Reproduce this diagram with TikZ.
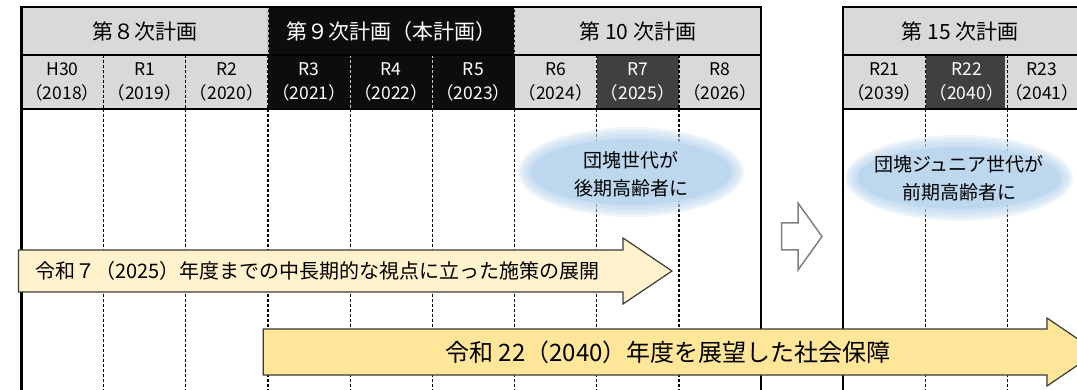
\documentclass[tikz,border=0pt]{standalone}
\usepackage{fontspec}
\setmainfont{Noto Sans CJK JP}
\usetikzlibrary{shapes.geometric}
\definecolor{hdrgrey}{HTML}{D9D9D9}
\definecolor{plannine}{HTML}{0D0D0D}
\definecolor{darkcell}{HTML}{404040}
\definecolor{cream}{HTML}{FFF2CC}
\definecolor{gold}{HTML}{FFE699}
\definecolor{bubble}{HTML}{BDD7EE}
\definecolor{arrowedge}{HTML}{3A3A3A}
\tikzset{
  hdrcell/.style={rectangle, inner sep=0pt, minimum height=47.5pt, font=\fontsize{21}{24}\selectfont},
  yearcell/.style={rectangle, inner sep=0pt, minimum height=54pt, minimum width=82.2pt, align=center, font=\fontsize{17.5}{24}\selectfont},
  gridline/.style={black, line width=1.2pt, dash pattern=on 3pt off 2pt},
  blockarrow/.style={draw=arrowedge, line width=1.2pt},
  bubbletext/.style={align=center, inner sep=0pt, font=\fontsize{19}{28}\selectfont},
}
\begin{document}
\begin{tikzpicture}[x=1pt,y=-1pt]
\useasboundingbox (0,0) rectangle (1077,390);
\clip (0,0) rectangle (1077,390);
% header cells
\node[hdrcell, minimum width=246.6pt, fill=hdrgrey] (h8) at (144.6,31.25) {第８次計画};
\node[hdrcell, minimum width=246.6pt, fill=plannine, text=white] (h9) at (391.2,31.25) {第９次計画（本計画）};
\node[hdrcell, minimum width=246.6pt, fill=hdrgrey] (h10) at (637.8,31.25) {第 10 次計画};
\node[hdrcell, minimum width=233.7pt, fill=hdrgrey] (h15) at (960.2,31.25) {第 15 次計画};
% year cells
\foreach \i/\lab/\yr/\bg/\fg in {0/H30/2018/hdrgrey/black, 1/R1/2019/hdrgrey/black, 2/R2/2020/hdrgrey/black, 3/R3/2021/plannine/white, 4/R4/2022/plannine/white, 5/R5/2023/plannine/white, 6/R6/2024/hdrgrey/black, 7/R7/2025/darkcell/white, 8/R8/2026/hdrgrey/black, 10/R21/2039/hdrgrey/black, 11/R22/2040/darkcell/white}
  \node[yearcell, fill=\bg, text=\fg] (y\lab) at ({62.4+82.2*\i},82) {\lab\\（\yr）};
\node[yearcell, fill=hdrgrey, minimum width=70pt] (yR23) at (1042,82) {R23\\（2041）};
\fill[hdrgrey] (1076,55) rectangle (1077,109);
% dashed separators
\foreach \i in {3,6}
  \draw[gridline, draw=gray!55] ({21.3+82.2*\i},7.5) -- ({21.3+82.2*\i},55);
\foreach \i in {1,2,3,6,7,8,11,12}
  \draw[gridline] ({21.3+82.2*\i},55) -- ({21.3+82.2*\i},109);
\foreach \i in {4,5}
  \draw[gridline, draw=gray!45] ({21.3+82.2*\i},55) -- ({21.3+82.2*\i},109);
\foreach \i in {1,2,3,4,5,6,7,8,11,12}
  \draw[gridline] ({21.3+82.2*\i},109) -- ({21.3+82.2*\i},390);
% solid table lines
\draw[line width=2pt] (20,7.5) -- (761.1,7.5);
\draw[line width=1.5pt] (21.3,55) -- (761.1,55);
\draw[line width=2pt] (21.3,109) -- (761.1,109);
\draw[line width=3pt] (21.3,6.5) -- (21.3,390);
\draw[line width=1.5pt] (761.1,6.5) -- (761.1,390);
\draw[line width=2pt] (842.3,7.5) -- (1077,7.5);
\draw[line width=1.5pt] (843.3,55) -- (1077,55);
\draw[line width=2pt] (843.3,109) -- (1077,109);
\draw[line width=2pt] (843.3,6.5) -- (843.3,390);
% bubbles
\foreach \k in {0,...,5}
  \fill[bubble, opacity=0.22] (631,172) ellipse [x radius={113-2*\k}, y radius={45-2*\k}];
\fill[bubble] (631,172) ellipse [x radius=101, y radius=33];
\node[bubbletext] (e1) at (631,174) {団塊世代が\\後期高齢者に};
\foreach \k in {0,...,5}
  \fill[bubble, opacity=0.22] (959,178) ellipse [x radius={114-2*\k}, y radius={43-2*\k}];
\fill[bubble] (959,178) ellipse [x radius=102, y radius=31];
\node[bubbletext] (e2) at (959,178) {団塊ジュニア世代が\\前期高齢者に};
% arrows
\draw[blockarrow, fill=cream] (18.5,250) -- (623,250) -- (623,238) -- (672,271) -- (623,304) -- (623,292) -- (18.5,292) -- cycle;
\node[anchor=west, inner sep=0pt, font=\fontsize{20}{24}\selectfont] (a1) at (35,271) {令和７（2025）年度までの中長期的な視点に立った施策の展開};
\draw[blockarrow, fill=gold] (263.3,329) -- (1047,329) -- (1047,318) -- (1097,352) -- (1047,386) -- (1047,375) -- (263.3,375) -- cycle;
\node[inner sep=0pt, font=\fontsize{24}{28}\selectfont] (a2) at (668,352) {令和 22（2040）年度を展望した社会保障};
\draw[draw=gray, line width=1.5pt, fill=white] (781.7,223) -- (798,223) -- (798,203) -- (822,236.5) -- (798,270) -- (798,250) -- (781.7,250) -- cycle;
\end{tikzpicture}
\end{document}
